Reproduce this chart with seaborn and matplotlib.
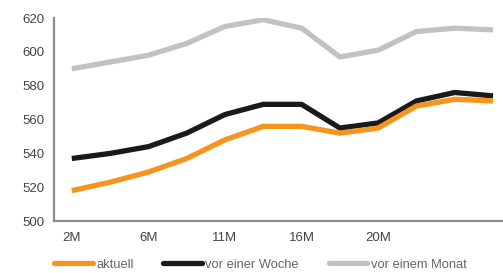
import matplotlib
matplotlib.use("Agg")
import matplotlib.pyplot as plt
import pandas as pd
import seaborn as sns

# values
positions = list(range(12))
tick_labels = ["2M", "", "6M", "", "11M", "", "16M", "", "20M", "", "", ""]
aktuell = [518, 523, 529, 537, 548, 556, 556, 552, 555, 568, 572, 571]
vor_woche = [537, 540, 544, 552, 563, 569, 569, 555, 558, 571, 576, 574]
vor_monat = [590, 594, 598, 605, 615, 619, 614, 597, 601, 612, 614, 613]

series_names = ["aktuell", "vor einer Woche", "vor einem Monat"]
colors = ["#f7941d", "#1a1a1a", "#c2c2c2"]


def main():
    sns.set_style("white")
    plt.rcParams["font.family"] = ["Liberation Sans", "DejaVu Sans"]

    df = pd.DataFrame({
        "pos": positions * 3,
        "value": aktuell + vor_woche + vor_monat,
        "series": [s for s in series_names for _ in positions],
    })

    fig = plt.figure(figsize=(5.03, 2.73), dpi=100)
    ax = fig.add_axes([0.107, 0.19, 0.893, 0.744])

    # draw the back series first, orange on top
    sns.lineplot(df, x="pos", y="value", hue="series", hue_order=series_names[::-1],
                 palette=colors[::-1], linewidth=3.8, ax=ax, legend=False,
                 solid_joinstyle="round", solid_capstyle="butt")

    ax.set_xlim(-0.47, 11.26)
    ax.set_ylim(500, 620)
    ax.set_yticks(range(500, 621, 20))
    ax.set_xticks([p + 0.5 for p in positions[:-1]])
    ax.set_xticklabels([])
    ax.set_xticks(positions, minor=True)
    ax.set_xticklabels(tick_labels, minor=True)
    ax.set_xlabel("")
    ax.set_ylabel("")

    for side in ["top", "right"]:
        ax.spines[side].set_visible(False)
    for side in ["left", "bottom"]:
        ax.spines[side].set_color("#8c8c8c")
        ax.spines[side].set_linewidth(1.6)

    ax.tick_params(axis="both", which="major", direction="out", length=3, width=1.2,
                   color="#555555", labelsize=9.5, labelcolor="#444444")
    ax.tick_params(axis="x", which="minor", length=0, pad=8, labelsize=9.5,
                   labelcolor="#444444")
    ax.tick_params(axis="y", pad=4)

    handles = [plt.Line2D([], [], color=c, linewidth=3.8) for c in colors]
    fig.legend(handles, series_names, loc="lower left", bbox_to_anchor=(0.085, -0.035),
               ncol=3, frameon=False, fontsize=9.3, handlelength=3.0, handletextpad=0.25,
               columnspacing=2.3, labelcolor="#666666")

    fig.savefig("out.png", dpi=100)


if __name__ == "__main__":
    main()
